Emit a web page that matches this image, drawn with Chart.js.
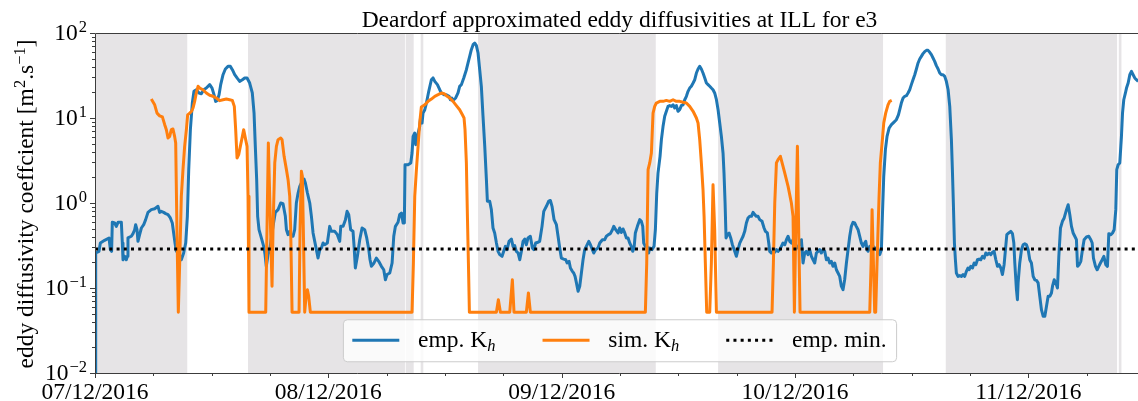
<!DOCTYPE html>
<html>
<head>
<meta charset="utf-8">
<title>Deardorf eddy diffusivities</title>
<script src="https://cdn.jsdelivr.net/npm/chart.js@4.4.0/dist/chart.umd.min.js"></script>
<style>
  html, body { margin: 0; padding: 0; background: #fff; overflow: hidden; }
  #wrap { width: 1144px; height: 401px; }
</style>
</head>
<body>
<div id="wrap"><canvas id="kh-chart"></canvas></div>
<script>
// time axis: hours since 07/12/2016 00:00
const empHours = [
  0, 0.07, 0.41, 0.55, 0.99, 1.44, 1.58, 1.71, 1.78, 2.02,
  2.19, 2.37, 2.71, 2.81, 2.88, 3.05, 3.22, 3.33, 3.39, 3.74,
  3.91, 4.08, 4.18, 4.32, 4.42, 4.59, 4.77, 5.01, 5.21, 5.45,
  5.79, 6.14, 6.48, 6.65, 6.82, 7.06, 7.27, 7.51, 7.75, 7.95,
  8.09, 8.23, 8.37, 8.64, 8.88, 9.12, 9.33, 9.50, 9.64, 9.81,
  10.01, 10.18, 10.42, 10.70, 10.94, 11.18, 11.45, 11.80, 12.04, 12.24,
  12.41, 12.58, 12.76, 12.93, 13.17, 13.41, 13.68, 13.92, 14.13, 14.37,
  14.61, 14.88, 15.16, 15.40, 15.64, 15.91, 16.18, 16.36, 16.49, 16.63,
  16.73, 16.87, 17.11, 17.35, 17.49, 17.62,
  17.80, 17.97, 18.31, 18.55, 18.83, 19.10, 19.34, 19.58, 19.69, 19.86,
  20.03, 20.20, 20.37, 20.54, 20.71, 20.89, 21.06, 21.23, 21.50, 21.64,
  21.85, 22.09, 22.26, 22.43, 22.60, 22.77, 22.94, 23.12, 23.29, 23.46,
  23.63, 23.90, 24.14, 24.31, 24.66, 24.93, 25.17, 25.28, 25.52, 25.76,
  25.93, 26.10, 26.30, 26.54, 26.65, 26.78, 26.99, 27.23, 27.47, 27.74,
  27.95, 28.16, 28.29, 28.43, 28.70, 28.94, 29.18, 29.46, 29.70, 29.87,
  30.04, 30.32, 30.56, 30.73, 30.90, 31.17, 31.34, 31.52, 31.69, 31.82,
  31.89, 32.20, 32.48, 32.61, 32.72, 32.89, 32.99, 33.16, 33.40, 33.50,
  33.64, 33.74, 33.92, 34.09, 34.33, 34.60, 34.77, 34.95, 35.22, 35.46,
  35.63, 35.91,
  36.14, 36.42, 36.55, 36.69, 36.83, 37.10, 37.34, 37.51, 37.69, 37.93,
  38.20, 38.37, 38.54, 38.71, 38.89, 39.06, 39.23, 39.40, 39.57, 39.74,
  39.91, 40.09, 40.26, 40.36, 40.60, 40.77, 40.94, 41.11, 41.29, 41.46,
  41.63, 41.87, 42.04, 42.21, 42.38, 42.59, 42.83, 43.00, 43.17, 43.34,
  43.52, 43.69, 43.86, 44.03, 44.20, 44.37, 44.54, 44.78, 44.99, 45.13,
  45.33, 45.57, 45.74, 45.98, 46.16, 46.43, 46.67, 46.84, 47.01, 47.22,
  47.46, 47.63, 47.80, 47.97, 48.21, 48.42, 48.56, 48.76, 48.90, 49.10,
  49.24, 49.38, 49.52, 49.69, 49.86, 50.03, 50.20, 50.37, 50.54, 50.79,
  50.96, 51.16, 51.30, 51.50, 51.74, 51.92, 52.19, 52.43, 52.60, 52.81,
  53.01, 53.22, 53.36, 53.56, 53.80,
  53.97, 54.14, 54.31, 54.49, 54.66, 54.83, 55.00, 55.17, 55.31, 55.45,
  55.58, 55.79, 56.03, 56.20, 56.34, 56.44, 56.61, 56.78, 56.95, 57.06,
  57.30, 57.50, 57.64, 57.78, 57.91, 58.12, 58.26, 58.43, 58.60, 58.77,
  58.94, 59.11, 59.29, 59.46, 59.63, 59.80, 59.97, 60.14, 60.31, 60.49,
  60.66, 60.83, 61.00, 61.17, 61.34, 61.52, 61.69, 61.86, 62.03, 62.20,
  62.37, 62.54, 62.72, 62.89, 63.06, 63.23, 63.40, 63.57, 63.74, 63.92,
  64.09, 64.26, 64.43, 64.60, 64.70, 64.81, 64.91, 65.05, 65.22, 65.39,
  65.56, 65.80, 65.97, 66.14, 66.32, 66.49, 66.66, 66.83, 67.00, 67.17,
  67.34, 67.52, 67.69, 67.86, 68.03, 68.20, 68.37, 68.61, 68.82, 68.96,
  69.16, 69.30, 69.40, 69.57, 69.74, 69.92, 70.09, 70.26, 70.43, 70.60,
  70.77, 70.95, 71.12, 71.29, 71.46, 71.63, 71.80,
  71.97, 72.14, 72.31, 72.49, 72.66, 72.83, 73.00, 73.17, 73.34, 73.51,
  73.69, 73.86, 74.03, 74.20, 74.37, 74.54, 74.71, 74.89, 75.06, 75.23,
  75.40, 75.57, 75.74, 75.91, 76.09, 76.26, 76.43, 76.60, 76.77, 76.94,
  77.11, 77.29, 77.46, 77.63, 77.80, 77.97, 78.14, 78.31, 78.49, 78.66,
  78.83, 79.00, 79.17, 79.28, 79.41, 79.52, 79.69, 79.86, 80.03, 80.20,
  80.37, 80.54, 80.72, 80.89, 80.99, 81.13, 81.30, 81.47, 81.68, 81.92,
  82.16, 82.43, 82.64, 82.77, 82.94, 83.12, 83.29, 83.46, 83.63, 83.80,
  83.97, 84.14, 84.32, 84.49, 84.66, 84.83, 85.00, 85.17, 85.34, 85.52,
  85.69, 85.86, 86.03, 86.20, 86.37, 86.54, 86.72, 86.89, 87.06, 87.23,
  87.40, 87.57, 87.75, 87.92, 88.09, 88.19, 88.29, 88.40, 88.50, 88.60,
  88.77, 88.95, 89.12, 89.29, 89.46, 89.63, 89.80,
  89.91, 90.08, 90.26, 90.43, 90.60, 90.77, 90.94, 91.11, 91.28, 91.46,
  91.63, 91.80, 91.97, 92.14, 92.31, 92.48, 92.66, 92.83, 93.00, 93.17,
  93.34, 93.51, 93.65, 93.79, 93.99, 94.20, 94.37, 94.51, 94.61, 94.78,
  94.88, 94.95, 95.12, 95.30, 95.47, 95.64, 95.81, 95.98, 96.15, 96.32,
  96.50, 96.67, 96.84, 97.01, 97.18, 97.35, 97.53, 97.70, 97.87, 98.04,
  98.21, 98.38, 98.49, 98.66, 98.83, 99.00, 99.14, 99.31, 99.51, 99.69,
  99.93, 100.10, 100.27, 100.44, 100.61, 100.78, 100.95, 101.06, 101.23, 101.40,
  101.57, 101.74, 101.98, 102.22, 102.43, 102.57, 102.70, 102.91, 103.08, 103.25,
  103.42, 103.60, 103.77, 103.97, 104.14, 104.28, 104.49, 104.66, 104.83, 105.00,
  105.10, 105.24, 105.41, 105.58, 105.69, 105.82, 105.99, 106.10, 106.27, 106.44,
  106.61, 106.78, 106.95, 107.12, 107.30
];
// empirical K_h [m2/s]
const empKh = [
  0.01, 0.258, 0.270, 0.338, 0.364, 0.388, 0.283, 0.270, 0.593, 0.582,
  0.531, 0.593, 0.593, 0.338, 0.215, 0.236, 0.215, 0.236, 0.388, 0.406,
  0.436, 0.485, 0.556, 0.485, 0.354, 0.424, 0.508, 0.556, 0.637, 0.776,
  0.835, 0.857, 0.914, 0.776, 0.798, 0.776, 0.750, 0.729, 0.667, 0.582,
  0.444, 0.338, 0.270, 0.258, 0.215, 0.258, 0.338, 0.697, 2.47, 7.29,
  15.0, 20.6, 21.5, 19.7, 19.3, 21.5, 22.5, 24.7, 22.5, 18.8,
  15.7, 16.1, 18.8, 24.7, 32.3, 37.7, 40.5, 40.5, 37.0, 32.3,
  29.6, 27.0, 28.2, 29.6, 29.6, 25.8, 19.7, 11.4, 4.64, 1.88,
  0.697, 0.485, 0.388, 0.309, 0.247, 0.18,
  0.247, 0.283, 0.531, 0.776, 0.835, 1.00, 0.98, 0.697, 0.485, 0.424,
  0.464, 0.406, 0.406, 0.485, 1.00, 1.31, 1.57, 1.72, 1.91, 1.72,
  1.31, 1.00, 0.697, 0.444, 0.354, 0.283, 0.225, 0.283, 0.296, 0.338,
  0.323, 0.338, 0.531, 0.464, 0.464, 0.424, 0.354, 0.531, 0.531, 0.637,
  0.798, 0.729, 0.485, 0.464, 0.309, 0.172, 0.236, 0.370, 0.508, 0.485,
  0.388, 0.283, 0.215, 0.180, 0.197, 0.225, 0.206, 0.180, 0.164, 0.125,
  0.144, 0.150, 0.197, 0.406, 0.531, 0.593, 0.729, 0.762, 0.582, 0.582,
  2.82, 2.82, 2.96, 3.87, 6.08, 6.66, 4.85, 6.08, 7.98, 10.5,
  8.73, 11.4, 12.5, 15.0, 20.6, 28.2, 29.6, 27.0, 24.7, 21.5,
  19.7, 18.8,
  18.8, 18.0, 16.4, 17.2, 16.1, 17.2, 19.7, 23.6, 24.7, 29.6,
  37.0, 44.4, 53.1, 63.7, 72.9, 76.3, 71.0, 58.2, 37.0, 23.6,
  10.5, 4.64, 1.88, 1.05, 1.05, 0.835, 0.508, 0.444, 0.338, 0.270,
  0.247, 0.236, 0.270, 0.309, 0.283, 0.354, 0.377, 0.309, 0.315, 0.270,
  0.258, 0.215, 0.270, 0.354, 0.377, 0.323, 0.388, 0.406, 0.296, 0.283,
  0.338, 0.345, 0.354, 0.531, 0.798, 0.914, 1.05, 1.07, 0.914, 0.637,
  0.556, 0.406, 0.296, 0.225, 0.219, 0.215, 0.197, 0.206, 0.172, 0.157,
  0.150, 0.137, 0.115, 0.0914, 0.105, 0.150, 0.215, 0.283, 0.309, 0.354,
  0.323, 0.283, 0.258, 0.283, 0.296, 0.338, 0.370, 0.370, 0.406, 0.424,
  0.436, 0.485, 0.531, 0.485, 0.444,
  0.508, 0.45, 0.495, 0.444, 0.388, 0.388, 0.338, 0.309, 0.270, 0.296,
  0.444, 0.531, 0.637, 0.609, 0.531, 0.338, 0.309, 0.309, 0.258, 0.296,
  0.283, 0.309, 0.485, 1.31, 2.25, 3.54, 5.56, 7.98, 10.5, 12.0,
  13.7, 14.0, 13.7, 14.3, 13.1, 14.0, 12.0, 12.5, 14.0, 14.3,
  16.4, 18.0, 20.6, 22.5, 23.6, 25.8, 28.2, 33.8, 37.7, 40.5,
  37.7, 33.8, 29.6, 25.8, 24.7, 23.6, 22.5, 21.5, 19.7, 16.4,
  12.5, 8.73, 6.08, 3.87, 2.25, 1.00, 0.388, 0.424, 0.444, 0.388,
  0.323, 0.270, 0.236, 0.283, 0.338, 0.370, 0.406, 0.464, 0.582, 0.667,
  0.697, 0.697, 0.776, 0.729, 0.697, 0.697, 0.637, 0.609, 0.508, 0.464,
  0.444, 0.338, 0.270, 0.258, 0.270, 0.263, 0.283, 0.270, 0.283, 0.309,
  0.338, 0.323, 0.370, 0.406, 0.354, 0.338, 0.370,
  0.283, 0.309, 0.296, 0.338, 0.370, 0.197, 0.258, 0.270, 0.247, 0.283,
  0.236, 0.215, 0.197, 0.258, 0.270, 0.283, 0.258, 0.283, 0.270, 0.215,
  0.225, 0.197, 0.206, 0.180, 0.197, 0.164, 0.150, 0.137, 0.105, 0.0955,
  0.125, 0.197, 0.283, 0.406, 0.531, 0.593, 0.582, 0.531, 0.485, 0.406,
  0.338, 0.309, 0.338, 0.354, 0.283, 0.270, 0.309, 0.296, 0.309, 0.296,
  0.283, 0.283, 0.247, 0.283, 0.697, 2.06, 4.24, 6.08, 7.62, 8.35,
  8.89, 9.55, 10.9, 12.5, 15.0, 17.2, 18.0, 18.3, 19.7, 21.5,
  24.7, 28.2, 32.3, 37.7, 44.4, 49.4, 53.1, 57.2, 60.3, 62.5,
  62.5, 59.3, 55.6, 50.8, 46.4, 41.3, 37.7, 33.8, 32.3, 32.3,
  30.9, 27.0, 21.5, 13.7, 5.56, 2.47, 1.00, 0.338, 0.215, 0.150,
  0.137, 0.140, 0.137, 0.144, 0.137, 0.157, 0.172,
  0.164, 0.180, 0.172, 0.197, 0.188, 0.215, 0.219, 0.215, 0.236, 0.225,
  0.258, 0.247, 0.258, 0.247, 0.263, 0.270, 0.215, 0.180, 0.188, 0.172,
  0.144, 0.188, 0.283, 0.424, 0.444, 0.464, 0.436, 0.338, 0.197, 0.0955,
  0.0729, 0.115, 0.197, 0.283, 0.323, 0.332, 0.323, 0.283, 0.215, 0.197,
  0.137, 0.125, 0.123, 0.115, 0.0798, 0.0556, 0.0464, 0.0464, 0.0608, 0.0798,
  0.0798, 0.0873, 0.105, 0.125, 0.115, 0.100, 0.236, 0.508, 0.609, 0.667,
  0.835, 0.955, 0.729, 0.531, 0.444, 0.406, 0.370, 0.180, 0.188, 0.206,
  0.283, 0.370, 0.398, 0.406, 0.370, 0.338, 0.225, 0.180, 0.164, 0.180,
  0.197, 0.215, 0.236, 0.188, 0.180, 0.436, 0.424, 0.444, 0.485, 0.835,
  2.47, 2.82, 2.96, 6.08, 11.4, 16.4, 19.7, 22.5, 25.8, 32.3,
  35.4, 32.3, 29.6, 28.2, 27.0
];
const simHours = [
  5.79, 6.14, 6.38, 6.65, 6.93, 7.17, 7.34, 7.51, 7.68, 7.85,
  8.02, 8.19, 8.30, 8.43, 8.57, 8.71, 8.88, 9.05, 9.22, 9.40,
  9.53, 9.74, 9.94, 10.08, 10.25, 10.42, 10.60, 10.77, 11.11, 11.45,
  11.80, 12.14, 12.48, 12.82, 13.17, 13.51, 13.85, 14.13, 14.33, 14.47,
  14.61, 14.78, 14.95, 15.16, 15.29, 15.43, 15.64, 15.74, 15.84, 17.56,
  17.69, 17.83, 18.21, 18.31, 18.49, 18.66, 18.83, 19.10, 19.24, 19.45,
  19.69, 19.86, 20.03, 20.13, 20.27, 20.99, 21.09, 21.23, 21.33, 21.43,
  21.57, 21.71, 21.85, 21.98, 22.15, 32.61, 32.75, 32.89, 33.06, 33.23,
  33.40, 33.57, 33.92, 34.26, 34.60, 34.95, 35.29, 35.63, 35.91, 36.14,
  36.49, 36.83, 37.17, 37.51, 37.79, 37.96, 38.06, 38.20, 38.30, 38.41,
  38.51, 41.29, 41.49, 41.70, 42.66, 42.93, 43.10, 44.37, 44.58, 44.78,
  56.61, 56.75, 56.89, 57.06, 57.23, 57.40, 57.57, 57.74, 58.09, 58.43,
  58.77, 59.11, 59.46, 59.80, 60.14, 60.49, 60.83, 61.17, 61.52, 61.86,
  62.03, 62.20, 62.37, 62.54, 62.65, 62.78, 62.92, 63.23, 63.40, 63.57,
  63.74, 63.92, 69.64, 69.78, 69.92, 70.09, 70.26, 70.50, 70.77, 70.95,
  71.29, 71.63, 71.80, 71.94, 72.08, 72.25, 72.38, 72.52, 79.69, 79.83,
  79.93, 80.07, 80.20, 80.30, 80.44, 80.65, 80.78, 80.99, 81.13, 81.33,
  81.57, 81.74, 81.95
];
// simulated K_h [m2/s]
const simKh = [
  16.7, 14.3, 11.4, 10.6, 10.3, 8.35, 7.29, 5.82, 6.08, 7.29,
  7.43, 6.08, 5.08, 0.485, 0.052, 0.197, 1.20, 2.47, 4.64, 7.29,
  10.9, 11.4, 12.0, 13.1, 15.7, 19.7, 23.6, 22.5, 21.5, 19.7,
  18.5, 18.0, 17.2, 16.0, 16.4, 16.7, 16.4, 16.1, 13.7, 7.29,
  3.38, 3.70, 4.64, 6.08, 7.29, 6.08, 4.64, 1.20, 0.052, 0.052,
  0.485, 5.08, 0.105, 0.485, 2.96, 4.64, 5.56, 5.82, 5.56, 3.54,
  2.47, 1.88, 1.20, 0.485, 0.052, 0.052, 0.485, 2.36, 2.06, 0.485,
  0.052, 0.0798, 0.0955, 0.0798, 0.052, 0.052, 0.197, 1.20, 2.47, 4.64,
  8.73, 13.5, 14.3, 15.7, 16.7, 18.0, 18.8, 19.7, 19.3, 18.3,
  17.2, 15.7, 14.0, 12.5, 10.9, 10.0, 7.29, 2.96, 0.762, 0.197,
  0.052, 0.052, 0.0729, 0.052, 0.052, 0.125, 0.052, 0.052, 0.0873, 0.052,
  0.052, 0.197, 2.47, 2.96, 3.87, 11.4, 13.7, 15.0, 15.7, 15.7,
  16.1, 15.7, 16.4, 15.7, 15.7, 15.3, 15.0, 13.7, 12.0, 10.0,
  8.73, 5.56, 2.96, 1.44, 0.697, 0.197, 0.052, 0.052, 0.197, 1.64,
  0.485, 0.052, 0.052, 0.197, 1.00, 2.96, 3.24, 3.54, 2.70, 2.25,
  1.57, 1.00, 0.697, 0.052, 0.485, 4.64, 0.485, 0.052, 0.052, 0.197,
  0.835, 0.197, 0.052, 0.052, 0.197, 1.20, 2.96, 5.56, 8.73, 11.4,
  14.3, 15.7, 16.1
];
const empMin = 0.288;
// shaded (night) intervals, hours
const nightStart = [0, 15.74, 31.96, 33.50, 39.40, 64.09, 87.51, 105.31];
const nightEnd = [9.49, 31.88, 32.78, 33.77, 57.68, 81.06, 105.13, 105.58];
const dayLabels = ['07/12/2016', '08/12/2016', '09/12/2016', '10/12/2016', '11/12/2016'];
const yTicks = [0.01, 0.1, 1, 10, 100];
const yTickExps = ['\u22122', '\u22121', '0', '1', '2'];
const xMax = 107.9;

const SERIF = "'Liberation Serif', 'Times New Roman', serif";
const FS = 23.5, FS_SMALL = 16.5;
const EMP_COLOR = '#1f77b4';
const SIM_COLOR = '#ff7f0e';
const NIGHT_COLOR = 'rgb(230, 228, 230)';
const AXIS_COLOR = '#3c3c3c';
const MIN_DASH = [3, 4.2];

function setFont(ctx, p) {
  ctx.font = (p.italic ? 'italic ' : '') + p.size + 'px ' + SERIF;
}
function richWidth(ctx, parts) {
  return parts.reduce((w, p) => { setFont(ctx, p); return w + ctx.measureText(p.text).width; }, 0);
}
function drawRich(ctx, parts, x, y) {
  ctx.textAlign = 'left';
  parts.forEach(p => {
    setFont(ctx, p);
    ctx.fillText(p.text, x, y + (p.dy || 0));
    x += ctx.measureText(p.text).width;
  });
  return x;
}

const yTitle = [
  { text: 'eddy diffusivity coeffcient [m', size: FS },
  { text: '2', size: FS_SMALL, dy: -8 },
  { text: '.s', size: FS },
  { text: '\u22121', size: FS_SMALL, dy: -8 },
  { text: ']', size: FS }
];
const legendItems = [
  { parts: [{ text: 'emp. K', size: FS }, { text: 'h', size: FS_SMALL, italic: true, dy: 4 }], color: EMP_COLOR, dash: [] },
  { parts: [{ text: 'sim. K', size: FS }, { text: 'h', size: FS_SMALL, italic: true, dy: 4 }], color: SIM_COLOR, dash: [] },
  { parts: [{ text: 'emp. min.', size: FS }], color: '#000', dash: MIN_DASH }
];

const decor = {
  id: 'decor',
  beforeDatasetsDraw(chart) {
    const { ctx, chartArea: a, scales: { x } } = chart;
    ctx.save();
    ctx.fillStyle = NIGHT_COLOR;
    nightStart.forEach((s, i) => {
      const x0 = x.getPixelForValue(s);
      ctx.fillRect(x0, a.top, x.getPixelForValue(nightEnd[i]) - x0, a.bottom - a.top);
    });
    ctx.restore();
  },
  afterDraw(chart) {
    const { ctx, chartArea: a, scales: { x, y } } = chart;
    ctx.save();

    // frame + tick marks
    ctx.strokeStyle = AXIS_COLOR;
    ctx.lineWidth = 1;
    ctx.beginPath();
    ctx.moveTo(a.left + 0.5, a.bottom + 0.5);
    ctx.lineTo(a.left + 0.5, a.top + 0.5);
    ctx.lineTo(a.right, a.top + 0.5);
    ctx.moveTo(a.left, a.bottom + 0.5);
    ctx.lineTo(a.right, a.bottom + 0.5);
    for (let h = 0; h <= xMax; h += 6) {
      const px = Math.round(x.getPixelForValue(h)) + 0.5;
      ctx.moveTo(px, a.bottom);
      ctx.lineTo(px, a.bottom + (h % 24 === 0 ? 5 : 3));
    }
    yTicks.forEach(v => {
      for (let m = 1; m < 10; m++) {
        if (v * m > 100) break;
        const py = Math.round(y.getPixelForValue(v * m)) + 0.5;
        ctx.moveTo(a.left, py);
        ctx.lineTo(a.left - (m === 1 ? 5 : 3), py);
      }
    });
    ctx.stroke();

    // y tick labels 10^n
    ctx.fillStyle = '#000';
    ctx.textBaseline = 'alphabetic';
    ctx.textAlign = 'right';
    yTicks.forEach((v, i) => {
      const py = y.getPixelForValue(v);
      const right = a.left - 8;
      ctx.font = FS_SMALL + 'px ' + SERIF;
      const ew = ctx.measureText(yTickExps[i]).width;
      ctx.fillText(yTickExps[i], right, py - 1);
      ctx.font = FS + 'px ' + SERIF;
      ctx.fillText('10', right - ew - 1, py + 7);
    });

    // y axis title
    ctx.save();
    ctx.translate(33, (a.top + a.bottom) / 2 + 1);
    ctx.rotate(-Math.PI / 2);
    drawRich(ctx, yTitle, -richWidth(ctx, yTitle) / 2, 0);
    ctx.restore();

    // title
    ctx.font = FS + 'px ' + SERIF;
    ctx.textAlign = 'center';
    ctx.fillText('Deardorf approximated eddy diffusivities at ILL for e3', (a.left + a.right) / 2, 27);

    // legend, lower center
    const em = FS, handle = 2 * em, pad = 0.8 * em, colGap = 2 * em, border = 0.4 * em;
    const widths = legendItems.map(it => richWidth(ctx, it.parts));
    const boxW = 2 * border + legendItems.length * (handle + pad) + widths.reduce((s, w) => s + w, 0) + (legendItems.length - 1) * colGap;
    const boxH = 42;
    const boxBottom = a.bottom - 0.5 * em;
    const boxLeft = (a.left + a.right) / 2 - boxW / 2;
    const boxTop = boxBottom - boxH;
    ctx.beginPath();
    ctx.roundRect(boxLeft + 0.5, boxTop + 0.5, boxW, boxH, 4);
    ctx.fillStyle = 'rgba(255, 255, 255, 0.8)';
    ctx.fill();
    ctx.strokeStyle = 'rgb(204, 204, 204)';
    ctx.lineWidth = 1;
    ctx.stroke();

    const midY = boxTop + boxH / 2;
    let cx = boxLeft + border;
    legendItems.forEach((it, i) => {
      ctx.beginPath();
      ctx.setLineDash(it.dash);
      ctx.strokeStyle = it.color;
      ctx.lineWidth = 3;
      ctx.moveTo(cx, midY);
      ctx.lineTo(cx + handle, midY);
      ctx.stroke();
      ctx.setLineDash([]);
      ctx.fillStyle = '#000';
      drawRich(ctx, it.parts, cx + handle + pad, midY + 7);
      cx += handle + pad + widths[i] + colGap;
    });

    ctx.restore();
  }
};

new Chart(document.getElementById('kh-chart'), {
  type: 'line',
  data: {
    datasets: [
      {
        label: 'emp. min.',
        data: [{ x: 0, y: empMin }, { x: xMax, y: empMin }],
        borderColor: '#000',
        borderWidth: 3,
        borderDash: MIN_DASH,
        order: 0
      },
      {
        label: 'sim. Kh',
        data: simHours.map((h, i) => ({ x: h, y: simKh[i] })),
        borderColor: SIM_COLOR,
        borderWidth: 3,
        order: 1
      },
      {
        label: 'emp. Kh',
        data: empHours.map((h, i) => ({ x: h, y: empKh[i] })),
        borderColor: EMP_COLOR,
        borderWidth: 3,
        order: 2
      }
    ]
  },
  options: {
    responsive: true,
    maintainAspectRatio: false,
    animation: false,
    events: [],
    layout: { padding: { top: 33, right: 0, bottom: 0, left: 0 } },
    elements: {
      point: { radius: 0 },
      line: { tension: 0, fill: false, borderJoinStyle: 'round' }
    },
    plugins: {
      legend: { display: false },
      title: { display: false },
      tooltip: { enabled: false }
    },
    scales: {
      x: {
        type: 'linear',
        min: 0,
        max: xMax,
        grid: { display: false, drawTicks: false },
        border: { display: false },
        ticks: {
          stepSize: 6,
          autoSkip: false,
          maxRotation: 0,
          padding: 6,
          color: '#000',
          font: { family: SERIF, size: FS },
          callback: v => (v % 24 === 0 ? dayLabels[v / 24] : '')
        },
        afterFit: s => {
          s.height = 28;
          s.paddingLeft = 0;
          s.paddingRight = 0;
        }
      },
      y: {
        type: 'logarithmic',
        min: 0.01,
        max: 100,
        grid: { display: false, drawTicks: false },
        border: { display: false },
        ticks: { display: false },
        afterFit: s => { s.width = 95; }
      }
    }
  },
  plugins: [decor]
});
</script>
</body>
</html>
